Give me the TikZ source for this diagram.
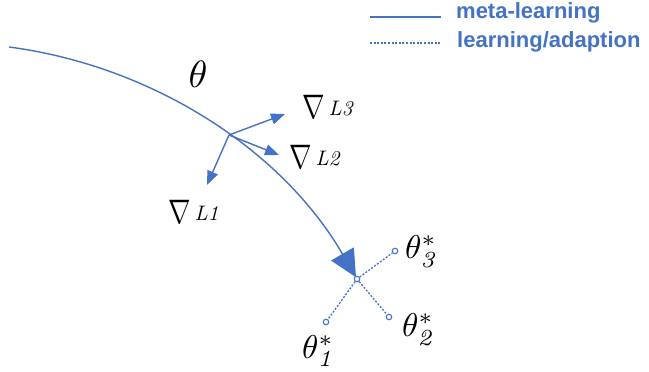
\documentclass[tikz,border=0pt]{standalone}
\usepackage{fontspec}
\usetikzlibrary{arrows.meta}
\newfontfamily\legendfont{Liberation Sans}
\definecolor{metablue}{RGB}{68,114,196}
\tikzset{
  metaflow/.style={draw=metablue,line width=1.4pt},
  adaptflow/.style={draw=metablue,line width=1.3pt,dash pattern=on 2pt off 1.6pt},
  gradarrow/.style={draw=metablue,line width=1.4pt,-{Triangle[length=14pt,width=11pt]}},
  endpt/.style={circle,draw=metablue,fill=white,line width=1.1pt,
    minimum size=5.5pt,inner sep=0pt},
  legendtext/.style={text=metablue,font=\legendfont\bfseries\fontsize{22}{26}\selectfont,
    anchor=base west,inner sep=0pt},
  gradlabel/.style={anchor=base west,inner sep=0pt},
  optlabel/.style={inner sep=0pt,scale=3.3}
}
\newcommand{\gradL}[1]{\scalebox{2.7}[3.4]{$\nabla$}\hspace{4pt}%
  \raisebox{3pt}{\scalebox{2.1}{\textit{L#1}}}}

\begin{document}
\begin{tikzpicture}[x=1pt,y=-1pt]
  \useasboundingbox (0,0) rectangle (649,372);

  % legend
  \coordinate (solidA) at (370,17);
  \coordinate (solidB) at (441,17);
  \coordinate (dotA) at (370,43);
  \coordinate (dotB) at (441,43);
  \draw[metaflow] (solidA) -- (solidB);
  \draw[adaptflow,line width=1.1pt] (dotA) -- (dotB);
  \node[legendtext] (metatext) at (456,18.5) {meta-learning};
  \node[legendtext] (adapttext) at (457,47) {learning/adaption};

  % meta-learning path
  \coordinate (start) at (9,47);
  \coordinate (hub) at (357,279);
  \coordinate (branch) at (229,135);
  \draw[metaflow,-{Triangle[length=27pt,width=26pt]},shorten >=2pt]
    (start) .. controls (154.5,66.2) and (282.9,151.3) .. (hub);
  \node[optlabel,scale=1.15] (theta) at (198,74) {$\theta$};

  % task gradients
  \coordinate (g1) at (207,185);
  \coordinate (g2) at (279,155);
  \coordinate (g3) at (285,114);
  \draw[gradarrow] (branch) -- (g1);
  \draw[gradarrow] (branch) -- (g2);
  \draw[gradarrow] (branch) -- (g3);
  \node[gradlabel] (gradL1) at (168,223) {\gradL{1}};
  \node[gradlabel] (gradL2) at (289,168) {\gradL{2}};
  \node[gradlabel] (gradL3) at (302,118) {\gradL{3}};

  % adaptation to each task
  \node[endpt] (hubdot) at (hub) {};
  \node[endpt] (end1) at (326,322) {};
  \node[endpt] (end2) at (389,317) {};
  \node[endpt] (end3) at (395,251) {};
  \draw[adaptflow] (hubdot) -- (end1);
  \draw[adaptflow] (hubdot) -- (end2);
  \draw[adaptflow] (hubdot) -- (end3);
  \node[optlabel] (opt1) at (318,351) {$\theta^{*}_{\mathit{1}}$};
  \node[optlabel] (opt2) at (418,330) {$\theta^{*}_{\mathit{2}}$};
  \node[optlabel] (opt3) at (421,252) {$\theta^{*}_{\mathit{3}}$};
\end{tikzpicture}
\end{document}
